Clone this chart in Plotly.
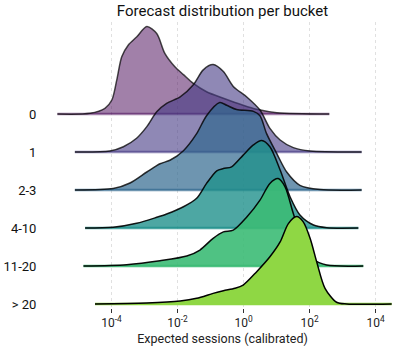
import plotly.graph_objects as go

# ---------------- data ----------------
buckets = ["0", "1", "2-3", "4-10", "11-20", "> 20"]

# log10(expected sessions) sample positions and relative density (peak = 1)
logx_0 = [-5.64, -4.65, -4.20, -3.99, -3.84, -3.69, -3.49, -3.24, -2.93, -2.63, -2.38, -2.08,
          -1.82, -1.52, -1.12, -0.61, -0.01, 0.40, 1.01, 2.60]
dens_0 = [0.0, 0.008, 0.065, 0.16, 0.39, 0.655, 0.79, 0.88, 1.0, 0.92, 0.69, 0.54,
          0.45, 0.35, 0.255, 0.18, 0.10, 0.054, 0.015, 0.0]

logx_1 = [-5.11, -4.05, -3.64, -3.24, -2.93, -2.63, -2.33, -1.92, -1.52, -1.22, -0.92, -0.61,
          -0.31, 0.10, 0.50, 0.80, 1.11, 1.51, 2.02, 3.58]
dens_1 = [0.0, 0.011, 0.06, 0.157, 0.29, 0.46, 0.556, 0.63, 0.77, 0.94, 1.0, 0.92,
          0.75, 0.63, 0.48, 0.27, 0.137, 0.05, 0.011, 0.0]

logx_2 = [-5.11, -3.95, -3.44, -2.93, -2.53, -2.23, -1.82, -1.42, -1.12, -0.72, -0.51, -0.21,
          0.30, 0.50, 0.70, 1.01, 1.31, 1.71, 2.32, 3.58]
dens_2 = [0.0, 0.016, 0.08, 0.206, 0.30, 0.34, 0.45, 0.645, 0.85, 1.0, 0.97, 0.92,
          0.90, 0.85, 0.645, 0.416, 0.206, 0.054, 0.005, 0.0]

logx_3 = [-4.80, -3.95, -3.24, -2.63, -2.33, -1.82, -1.42, -1.12, -0.81, -0.61, -0.36, -0.01,
          0.30, 0.55, 0.80, 1.11, 1.41, 1.71, 2.12, 2.52, 3.48]
dens_3 = [0.0, 0.008, 0.054, 0.122, 0.16, 0.243, 0.34, 0.51, 0.655, 0.68, 0.70, 0.834,
          0.95, 1.0, 0.93, 0.663, 0.358, 0.149, 0.034, 0.003, 0.0]

logx_4 = [-4.85, -3.54, -2.53, -1.72, -1.32, -0.92, -0.61, -0.31, 0.10, 0.50, 0.80, 1.05,
          1.26, 1.51, 1.81, 2.12, 2.52, 3.63]
dens_4 = [0.0, 0.015, 0.06, 0.114, 0.183, 0.317, 0.39, 0.41, 0.56, 0.754, 0.945, 1.0,
          0.906, 0.60, 0.26, 0.077, 0.011, 0.0]

logx_5 = [-4.50, -2.93, -1.92, -1.42, -0.92, -0.61, -0.26, -0.01, 0.40, 0.80, 1.11, 1.36,
          1.61, 1.81, 2.02, 2.22, 2.47, 2.82, 3.13, 4.49]
dens_5 = [0.0, 0.011, 0.034, 0.065, 0.122, 0.152, 0.18, 0.217, 0.37, 0.54, 0.71, 0.92,
          1.0, 0.94, 0.75, 0.48, 0.18, 0.02, 0.0, 0.0]

tick_vals = [1e-4, 1e-2, 1e0, 1e2, 1e4]
tick_text = ["10<sup>-4</sup>", "10<sup>-2</sup>", "10<sup>0</sup>", "10<sup>2</sup>", "10<sup>4</sup>"]

title = "Forecast distribution per bucket"
x_title = "Expected sessions (calibrated)"

# ---------------- style ----------------
colors = [(68, 1, 84), (69, 57, 131), (49, 104, 142), (33, 145, 140), (60, 187, 117), (143, 215, 68)]
alphas = [0.5, 0.6, 0.7, 0.8, 0.9, 1.0]
line_alphas = [0.7, 0.75, 0.8, 0.9, 0.95, 1.0]
SCALE = 2.3
FONT = "Roboto"

all_logx = [logx_0, logx_1, logx_2, logx_3, logx_4, logx_5]
all_dens = [dens_0, dens_1, dens_2, dens_3, dens_4, dens_5]

fig = go.Figure()
for i, name in enumerate(buckets):
    base = -i
    xs = [10 ** v for v in all_logx[i]]
    ys = [base + SCALE * d for d in all_dens[i]]
    r, g, b = colors[i]
    a = alphas[i]
    fc = f"rgba({r},{g},{b},{a})"
    fig.add_trace(go.Scatter(x=xs, y=ys, mode="lines", fill="toself", fillcolor=fc,
                             line=dict(width=0, shape="spline", smoothing=0.8),
                             hoverinfo="skip", showlegend=False))
    fig.add_trace(go.Scatter(x=[xs[0], xs[-1]], y=[base, base], mode="lines",
                             line=dict(color=fc, width=2.5), hoverinfo="skip", showlegend=False))
    fig.add_trace(go.Scatter(x=xs, y=ys, mode="lines",
                             line=dict(color=f"rgba(0,0,0,{line_alphas[i]})", width=1.5,
                                       shape="spline", smoothing=0.8),
                             name=name, showlegend=False))

fig.update_layout(
    width=407, height=352,
    margin=dict(l=50, r=12, t=22, b=44, autoexpand=False),
    paper_bgcolor="white", plot_bgcolor="white",
    font=dict(family=FONT, size=12, color="#222"),
    title=dict(text=title, x=0.5, xref="paper", xanchor="center", y=0.985, yanchor="top",
               font=dict(size=15, color="#111")),
    showlegend=False,
)
fig.update_xaxes(type="log", range=[-5.864, 4.591], tickvals=tick_vals, ticktext=tick_text,
                 showgrid=True, gridcolor="#e0e0e0", griddash="dot", gridwidth=1,
                 ticks="outside", ticklen=4, tickcolor="#333", showline=False, zeroline=False,
                 tickfont=dict(size=12), automargin=False,
                 title=dict(text=x_title, font=dict(size=12.5), standoff=4))
fig.update_yaxes(range=[-5.105, 2.421], tickvals=[-i for i in range(len(buckets))], ticktext=buckets,
                 showgrid=False, zeroline=False, showline=False, ticks="outside", ticklen=10,
                 tickcolor="rgba(0,0,0,0)", tickfont=dict(size=13, color="#111"), automargin=False)

fig.write_html("out.html")
